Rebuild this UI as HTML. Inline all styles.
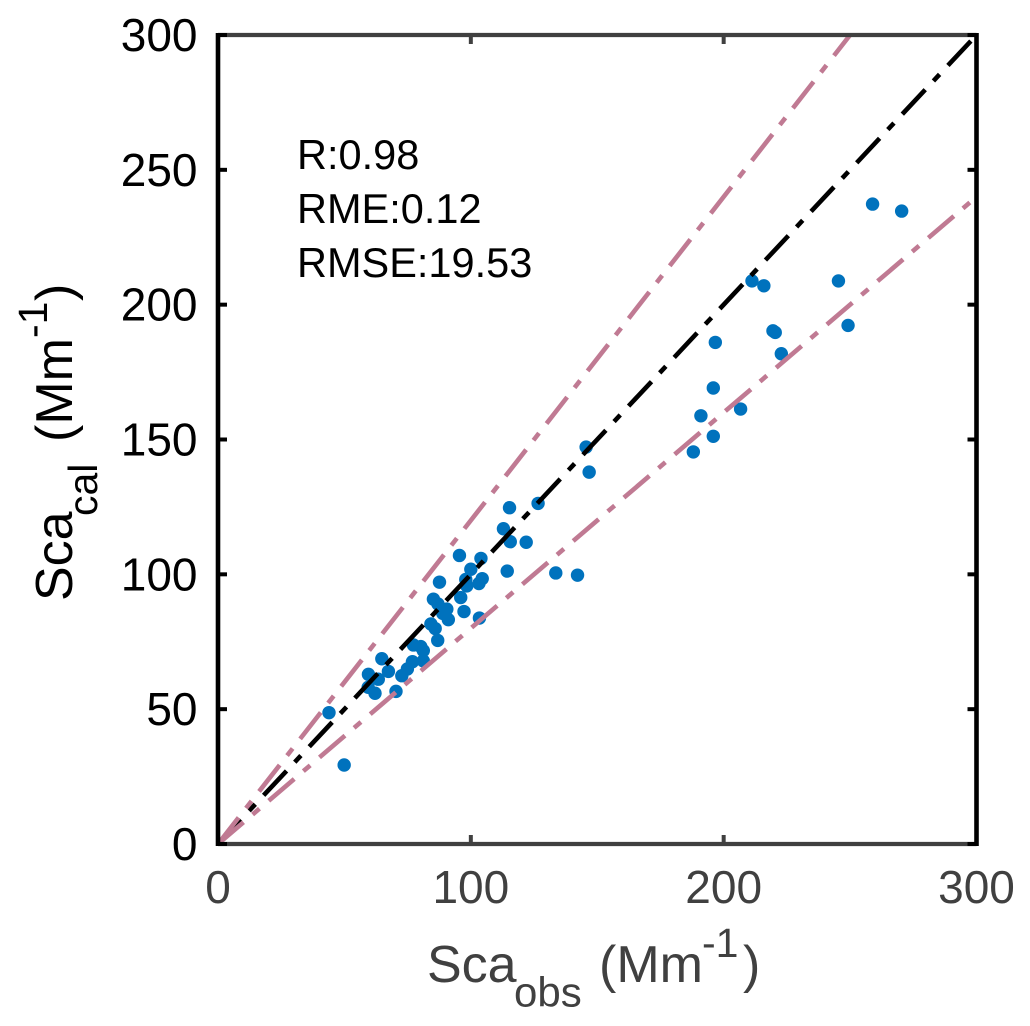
<!DOCTYPE html>
<html lang="en">
<head>
<meta charset="utf-8">
<title>Sca calculated vs observed</title>
<style>
html,body{margin:0;padding:0;background:#fff;}
svg{display:block;font-family:"Liberation Sans",Arial,sans-serif;}
</style>
</head>
<body>
<svg id="chart" xmlns="http://www.w3.org/2000/svg" width="1030" height="1026" viewBox="0 0 1030 1026">
  <rect x="0" y="0" width="1030" height="1026" fill="#ffffff"/>
  <g id="points"></g>
  <g id="lines"></g>
  <g id="axes"></g>
  <g font-size="41.5" fill="#000000">
    <text x="297" y="169">R:0.98</text>
    <text x="297" y="223">RME:0.12</text>
    <text x="297" y="277">RMSE:19.53</text>
  </g>
  <g fill="#404040">
    <text x="427" y="982" font-size="52">Sca</text>
    <text x="514" y="1006.5" font-size="42">obs</text>
    <text x="599" y="982" font-size="52">(Mm</text>
    <text x="702" y="957" font-size="41">-1</text>
    <text x="743" y="982" font-size="52">)</text>
  </g>
  <g fill="#000000">
    <text transform="translate(72 601) rotate(-90)" font-size="52">Sca</text>
    <text transform="translate(97 516) rotate(-90)" font-size="41">cal</text>
    <text transform="translate(72 442) rotate(-90)" font-size="52">(Mm</text>
    <text transform="translate(47 338) rotate(-90)" font-size="41">-1</text>
    <text transform="translate(72 301) rotate(-90)" font-size="52">)</text>
  </g>
</svg>
<script>
const obsValues = [43.9,115.3,126.6,112.9,115.6,121.9,95.5,104,100,114.4,133.6,142.2,98,104.5,103.2,98.4,87.6,96,85.2,87,90.5,88.9,97.3,91.1,103.4,84.2,85.9,86.9,77.3,80.2,81.2,76.9,81.2,74.9,72.7,64.8,67.4,59.5,63.4,59.4,62.1,70.4,258.9,270.4,211.2,215.9,245.4,219.5,220.4,249.2,222.8,196.7,195.9,191,206.7,195.9,188,145.6,146.8,49.9];
const calValues = [48.7,124.7,126.3,116.9,112.1,111.9,107,105.9,101.9,101.2,100.5,99.7,98.1,98.4,96.6,95.7,97.1,91.4,90.8,89,87.1,85.5,86.2,83.2,83.8,81.6,79.9,75.5,73.8,73.2,71.7,67.6,67.9,64.9,62.4,68.7,64,62.9,61.1,58.1,55.9,56.6,237.3,234.7,208.8,207,208.8,190.3,189.7,192.3,181.8,186,169.1,158.8,161.3,151.2,145.4,147.2,137.9,29.3];
const xTicks = [0,100,200,300];
const yTicks = [0,50,100,150,200,250,300];
const axisMax = 300;
const lineNames = ['one-to-one-line','upper-bound-line','lower-bound-line'];
const lineSlopes = [1,1.2,0.8];
const lineColors = ['#000000','#c07a93','#c07a93'];

const NS = 'http://www.w3.org/2000/svg';
const plotLeft = 218, plotRight = 976.5, plotTop = 35, plotBottom = 844;
function xScale(v){ return plotLeft + (v / axisMax) * (plotRight - plotLeft); }
function yScale(v){ return plotBottom - (v / axisMax) * (plotBottom - plotTop); }
function make(tag, attrs){
  const el = document.createElementNS(NS, tag);
  for (const k in attrs) el.setAttribute(k, attrs[k]);
  return el;
}

const pointsGroup = document.getElementById('points');
obsValues.forEach(function(v, i){
  const dot = make('circle', {cx:xScale(v), cy:yScale(calValues[i]), r:6.7, fill:'#0072BD'});
  
  
  pointsGroup.appendChild(dot);
});

const linesGroup = document.getElementById('lines');
lineSlopes.forEach(function(s, i){
  const endX = Math.min(axisMax, axisMax / s);
  const ln = make('line', {x1:xScale(0), y1:yScale(0), x2:xScale(endX), y2:yScale(endX * s),
    stroke:lineColors[i], 'stroke-width':4.6, 'stroke-dasharray':'33.5 12 9 12.2'});
  
  
  linesGroup.appendChild(ln);
});

const axesGroup = document.getElementById('axes');
const grey = '#404040', black = '#000000', tickLen = 9;
function segment(name, x1, y1, x2, y2, color, w){
  const s = make('line', {x1:x1, y1:y1, x2:x2, y2:y2, stroke:color, 'stroke-width':w});
  
  
  axesGroup.appendChild(s);
}
segment('bottom-spine', plotLeft, plotBottom, plotRight, plotBottom, grey, 4.2);
segment('top-spine', plotLeft, plotTop, plotRight, plotTop, grey, 4.2);
xTicks.forEach(function(v){
  const x = xScale(v);
  segment('x-tick-bottom', x, plotBottom, x, plotBottom - tickLen, grey, 4);
  segment('x-tick-top', x, plotTop, x, plotTop + tickLen, grey, 4);
  const t = make('text', {x:x, y:903, 'text-anchor':'middle', 'font-size':46, fill:grey});
  
  
  t.textContent = v;
  axesGroup.appendChild(t);
});
segment('left-spine', plotLeft, plotTop - 2, plotLeft, plotBottom + 2, black, 4.6);
segment('right-spine', plotRight, plotTop - 2, plotRight, plotBottom + 2, black, 4.6);
yTicks.forEach(function(v){
  const y = yScale(v);
  segment('y-tick-left', plotLeft, y, plotLeft + tickLen, y, black, 4);
  segment('y-tick-right', plotRight, y, plotRight - tickLen, y, black, 4);
  const t = make('text', {x:197.5, y:y + 16, 'text-anchor':'end', 'font-size':46, fill:black});
  
  
  t.textContent = v;
  axesGroup.appendChild(t);
});
</script>
</body>
</html>
